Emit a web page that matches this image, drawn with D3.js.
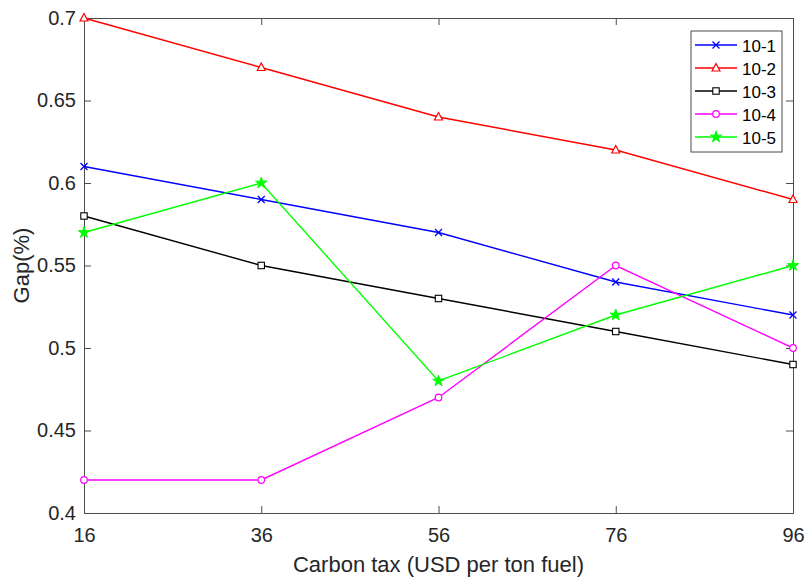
<!DOCTYPE html>
<html><head><meta charset="utf-8">
<script src="https://cdn.jsdelivr.net/npm/d3@7"></script>
<style>body{margin:0;background:#fff;}svg{display:block;}</style>
</head><body>
<svg id="c" width="805" height="578"></svg>
<script>
const xValues = [16, 36, 56, 76, 96];
const seriesNames = ["10-1", "10-2", "10-3", "10-4", "10-5"];
const s1 = [0.61, 0.59, 0.57, 0.54, 0.52];
const s2 = [0.70, 0.67, 0.64, 0.62, 0.59];
const s3 = [0.58, 0.55, 0.53, 0.51, 0.49];
const s4 = [0.42, 0.42, 0.47, 0.55, 0.50];
const s5 = [0.57, 0.60, 0.48, 0.52, 0.55];
const yTicks = [0.4, 0.45, 0.5, 0.55, 0.6, 0.65, 0.7];
const colors = ["#0000ff", "#ff0000", "#000000", "#ff00ff", "#00ff00"];
const markers = ["x", "tri", "sq", "circ", "star"];
const seriesVals = [s1, s2, s3, s4, s5];

const svg = d3.select("#c");
const L = 84, R = 793, T = 18, B = 513;
const x = d3.scaleLinear().domain([16, 96]).range([L, R]);
const y = d3.scaleLinear().domain([0.4, 0.7]).range([B, T]);
const axisCol = "#4d4d4d", font = "Arial, 'Liberation Sans', sans-serif";

// axes
const gx = svg.append("g").attr("transform", `translate(0,${B})`)
  .call(d3.axisBottom(x).tickValues(xValues).tickSize(-7).tickPadding(15).tickFormat(d3.format("d")));
const gy = svg.append("g").attr("transform", `translate(${L},0)`)
  .call(d3.axisLeft(y).tickValues(yTicks).tickSize(-7).tickPadding(8).tickFormat(d => String(+d.toFixed(2))));
const gt = svg.append("g").attr("transform", `translate(0,${T})`)
  .call(d3.axisTop(x).tickValues(xValues).tickSize(-7).tickFormat(""));
const gr = svg.append("g").attr("transform", `translate(${R},0)`)
  .call(d3.axisRight(y).tickValues(yTicks).tickSize(-7).tickFormat(""));
[gx, gy, gt, gr].forEach(g => {
  g.selectAll(".domain").attr("stroke", axisCol).attr("stroke-width", 1);
  g.selectAll(".tick line").attr("stroke", axisCol);
  g.selectAll("text").attr("fill", "#262626").attr("font-family", font).attr("font-size", 20);
});

// titles
svg.append("text").attr("x", (L + R) / 2).attr("y", 572).attr("text-anchor", "middle")
  .attr("font-family", font).attr("font-size", 22).attr("fill", "#262626").text("Carbon tax (USD per ton fuel)");
svg.append("text").attr("transform", `translate(29,${(T + B) / 2}) rotate(-90)`).attr("text-anchor", "middle")
  .attr("font-family", font).attr("font-size", 22).attr("fill", "#262626").text("Gap(%)");

function drawMarker(g, type, cx, cy, col) {
  if (type === "x") {
    g.append("path").attr("d", `M${cx-3.5},${cy-3.5}L${cx+3.5},${cy+3.5}M${cx-3.5},${cy+3.5}L${cx+3.5},${cy-3.5}`)
      .attr("stroke", col).attr("stroke-width", 1.3).attr("fill", "none");
  } else if (type === "tri") {
    g.append("path").attr("d", `M${cx},${cy-4.5}L${cx+4},${cy+3}L${cx-4},${cy+3}Z`)
      .attr("stroke", col).attr("stroke-width", 1.2).attr("fill", "#fff");
  } else if (type === "sq") {
    g.append("rect").attr("x", cx - 3.2).attr("y", cy - 3.2).attr("width", 6.4).attr("height", 6.4)
      .attr("stroke", col).attr("stroke-width", 1.1).attr("fill", "#fff");
  } else if (type === "circ") {
    g.append("circle").attr("cx", cx).attr("cy", cy).attr("r", 3.3)
      .attr("stroke", col).attr("stroke-width", 1.2).attr("fill", "#fff");
  } else {
    g.append("path").attr("d", d3.symbol(d3.symbolStar, 40)()).attr("transform", `translate(${cx},${cy})`)
      .attr("stroke", col).attr("stroke-width", 1).attr("fill", col);
  }
}

const line = d3.line().x((d, i) => x(xValues[i])).y(d => y(d));
seriesVals.forEach((vals, k) => {
  const g = svg.append("g");
  g.append("path").attr("d", line(vals)).attr("fill", "none").attr("stroke", colors[k]).attr("stroke-width", 1.4);
  vals.forEach((v, i) => drawMarker(g, markers[k], x(xValues[i]), y(v), colors[k]));
});

// legend
const lg = svg.append("g");
lg.append("rect").attr("x", 691).attr("y", 31).attr("width", 91).attr("height", 121)
  .attr("fill", "#fff").attr("stroke", axisCol).attr("stroke-width", 1);
seriesNames.forEach((n, k) => {
  const ly = 45 + k * 23;
  lg.append("line").attr("x1", 695).attr("x2", 737).attr("y1", ly).attr("y2", ly)
    .attr("stroke", colors[k]).attr("stroke-width", 1.4);
  drawMarker(lg, markers[k], 716, ly, colors[k]);
  lg.append("text").attr("x", 742).attr("y", ly + 6.5).attr("font-family", font).attr("font-size", 17)
    .attr("fill", "#000").text(n);
});
</script>
</body></html>
